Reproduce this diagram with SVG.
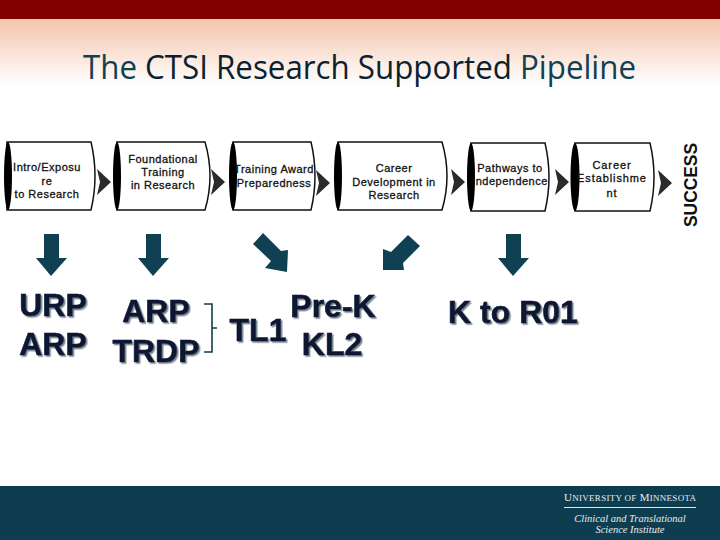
<svg xmlns="http://www.w3.org/2000/svg" width="720" height="540" viewBox="0 0 720 540">
<defs>
<linearGradient id="fade" x1="0" y1="0" x2="0" y2="1"><stop offset="0" stop-color="#f4c4ab"/><stop offset="1" stop-color="#ffffff"/></linearGradient>
<filter id="sh" x="-10%" y="-10%" width="125%" height="130%"><feDropShadow dx="1.5" dy="1.5" stdDeviation="0.3" flood-color="#76838e"/></filter>
<path id="chev" d="M0,-13 L14,0 L0,13 L3,0 Z" fill="#2b2b2b"/>
</defs>
<style>
.box{fill:#fff;stroke:#111;stroke-width:1.5}
.cap{fill:#000}
.t{font-family:"Liberation Sans",Arial,sans-serif;font-size:11px;letter-spacing:.5px;text-anchor:middle;fill:#111;stroke:#111;stroke-width:.3}
.big{font-family:"Liberation Sans",Arial,sans-serif;font-weight:bold;font-size:32px;text-anchor:middle;fill:#081530;stroke:#081530;stroke-width:.6;filter:url(#sh)}
.arr{fill:#0f4152}
.title{font-family:"Open Sans","Noto Sans",sans-serif;font-size:32px}
.logo{font-family:"Liberation Serif",serif;fill:#e6ecef}
</style>
<rect width="720" height="540" fill="#fff"/>
<rect y="19" width="720" height="66" fill="url(#fade)"/>
<rect width="720" height="19" fill="#800000"/>
<rect y="486" width="720" height="54" fill="#0f3d50"/>
<text class="title" x="83" y="79" textLength="553" lengthAdjust="spacingAndGlyphs" fill="#0a2230"><tspan fill="#0f4152">The</tspan> CTSI Research Supported <tspan fill="#0f4152">Pipeline</tspan></text>

<g id="connectors">
<use href="#chev" x="97" y="182"/>
<use href="#chev" x="211" y="182"/>
<use href="#chev" x="316" y="183"/>
<use href="#chev" x="451" y="182"/>
<use href="#chev" x="555" y="182"/>
<use href="#chev" x="658" y="183"/>
<polygon class="arr" points="44,234 59,234 59,258 67,258 51,276 36,258 44,258"/>
<polygon class="arr" points="146,234 161,234 161,258 169,258 153,276 138,258 146,258"/>
<polygon class="arr" points="263,233 281,251 288,250 287,272 265,268 271,261 253,244"/>
<polygon class="arr" points="408,235 420,246 403,263 404,270 383,270 383,249 391,252"/>
<polygon class="arr" points="506,234 521,234 521,258 529,258 513,276 498,258 506,258"/>
<path d="M204,304 H212 V352 H204 M212,328 H217" fill="none" stroke="#123f4b" stroke-width="1.6"/>
</g>

<g id="node1"><path class="box" d="M7,142 H91 Q99,176 91,210 H7 Z"/><ellipse class="cap" cx="8" cy="176" rx="4" ry="34"/>
<text class="t"><tspan x="47" y="171">Intro/Exposu</tspan><tspan x="47" y="185">re</tspan><tspan x="47" y="198">to Research</tspan></text></g>
<g id="node2"><path class="box" d="M117,142 H205 Q215,176 205,210 H117 Z"/><ellipse class="cap" cx="117" cy="176" rx="4" ry="34"/>
<text class="t"><tspan x="163" y="163">Foundational</tspan><tspan x="163" y="176">Training</tspan><tspan x="163" y="189">in Research</tspan></text></g>
<g id="node3"><path class="box" d="M233,142 H311 Q319,176 311,210 H233 Z"/><ellipse class="cap" cx="233" cy="176" rx="4" ry="34"/>
<text class="t"><tspan x="274" y="173">Training Award</tspan><tspan x="274" y="187">Preparedness</tspan></text></g>
<g id="node4"><path class="box" d="M338,142 H442 Q452,176 442,210 H338 Z"/><ellipse class="cap" cx="338" cy="176" rx="4" ry="34"/>
<text class="t"><tspan x="394" y="172">Career</tspan><tspan x="394" y="186">Development in</tspan><tspan x="394" y="199">Research</tspan></text></g>
<g id="node5"><path class="box" d="M471,143 H545 Q553,177 545,211 H471 Z"/><ellipse class="cap" cx="471" cy="177" rx="4" ry="34"/>
<text class="t"><tspan x="510" y="172">Pathways to</tspan><tspan x="510" y="185">Independence</tspan></text></g>
<g id="node6"><path class="box" d="M575,143 H650 Q658,177 650,211 H575 Z"/><ellipse class="cap" cx="575" cy="177" rx="4.5" ry="34"/>
<text class="t" style="letter-spacing:.9px"><tspan x="612" y="169">Career</tspan><tspan x="612" y="182">Establishme</tspan><tspan x="612" y="197">nt</tspan></text></g>
<text id="success" transform="translate(697,227) rotate(-90)" font-family="Liberation Sans,Arial,sans-serif" font-weight="bold" font-size="19" fill="#111" textLength="84" lengthAdjust="spacingAndGlyphs">SUCCESS</text>

<g id="labels">
<text class="big" x="53" y="316">URP</text>
<text class="big" x="53" y="355">ARP</text>
<text class="big" x="156" y="322">ARP</text>
<text class="big" x="156" y="362">TRDP</text>
<text class="big" x="258" y="341">TL1</text>
<text class="big" x="333" y="317">Pre-K</text>
<text class="big" x="332" y="355">KL2</text>
<text class="big" x="513" y="323">K to R01</text>
</g>
<g id="logo">
<text class="logo" x="564" y="501" font-size="11" textLength="132">U<tspan font-size="9">NIVERSITY OF</tspan> M<tspan font-size="9">INNESOTA</tspan></text>
<rect x="564" y="507" width="132" height="1" fill="#dfe7ea"/>
<text class="logo" x="630" y="522" font-size="10.5" font-style="italic" text-anchor="middle">Clinical and Translational</text>
<text class="logo" x="630" y="533" font-size="10.5" font-style="italic" text-anchor="middle">Science Institute</text>
</g>
</svg>
